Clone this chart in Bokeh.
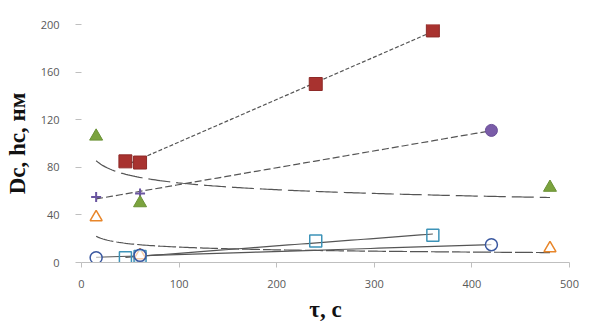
import numpy as np
from bokeh.plotting import figure
from bokeh.models import Range1d, FixedTicker
from bokeh.embed import file_html
from bokeh.resources import INLINE

# ---- data ----
tau_red = [45, 60, 240, 360]
d_red = [85, 84, 150, 195]

tau_purple_plus = [15, 60]
d_purple_plus = [55, 58]
tau_purple_circ = [420]
d_purple_circ = [111]

tau_green = [15, 60, 480]
d_green = [106, 50, 63]

tau_orange = [15, 60, 480]
h_orange = [38, 6, 12]

tau_bsq = [45, 60, 240, 360]
h_bsq = [4, 5, 18, 23]

tau_bcirc = [15, 60, 420]
h_bcirc = [4, 6, 15]

x_ticks = [0, 100, 200, 300, 400, 500]
y_ticks = [0, 40, 80, 120, 160, 200]

p = figure(width=583, height=324, output_backend="svg", toolbar_location=None,
           x_range=Range1d(0, 500), y_range=Range1d(0, 200),
           min_border_left=81, min_border_right=14, min_border_top=24, min_border_bottom=40)
p.outline_line_color = None
p.xgrid.visible = False
p.ygrid.visible = False
p.background_fill_color = "white"

LINE = "#555555"


def lin_trend(x, y, dash):
    k, b = np.polyfit(x, y, 1)
    xs = np.linspace(min(x), max(x), 50)
    p.line(xs, k * xs + b, line_color=LINE, line_width=1.2, line_dash=dash)


def pow_trend(x, y, dash):
    b, a = np.polyfit(np.log(x), np.log(y), 1)
    xs = np.linspace(min(x), max(x), 200)
    p.line(xs, np.exp(a) * xs ** b, line_color=LINE, line_width=1.2, line_dash=dash)


# trend lines
lin_trend(tau_red, d_red, "4 2")
lin_trend(tau_purple_plus + tau_purple_circ, d_purple_plus + d_purple_circ, "7 3")
pow_trend(tau_green, d_green, "22 6")
pow_trend(tau_orange, h_orange, "18 3")
lin_trend(tau_bsq, h_bsq, "solid")
lin_trend(tau_bcirc, h_bcirc, "solid")

# markers
p.scatter(tau_red, d_red, marker="square", size=13, fill_color="#a8322f", line_color="#8e2a28")
p.scatter(tau_purple_plus, d_purple_plus, marker="cross", size=10, line_color="#6a55a0", line_width=2)
p.scatter(tau_purple_circ, d_purple_circ, marker="circle", size=12, fill_color="#7a5ca8", line_color="#6a4e98")
p.scatter(tau_green, d_green, marker="triangle", size=13, fill_color="#7ba33e", line_color="#6a9235")
p.scatter(tau_orange, h_orange, marker="triangle", size=12, fill_color="white", line_color="#e8862a", line_width=1.5)
p.scatter(tau_bsq, h_bsq, marker="square", size=12, fill_color="white", fill_alpha=0.0, line_color="#3d93b8", line_width=1.5)
p.scatter(tau_bcirc, h_bcirc, marker="circle", size=12, fill_color="white", fill_alpha=0.6, line_color="#3a58a0", line_width=1.5)

# axes
p.xaxis.ticker = FixedTicker(ticks=x_ticks)
p.yaxis.ticker = FixedTicker(ticks=y_ticks)
p.xaxis.minor_tick_line_color = None
p.yaxis.minor_tick_line_color = None
p.xaxis.axis_line_color = "#bfbfbf"
p.xaxis.major_tick_line_color = "#bfbfbf"
p.xaxis.major_tick_out = 5
p.xaxis.major_tick_in = 0
p.yaxis.axis_line_color = None
p.yaxis.major_tick_line_color = "#bfbfbf"
p.yaxis.major_tick_out = 6
p.yaxis.major_tick_in = 0

for ax in (p.xaxis, p.yaxis):
    ax.major_label_text_font = "Open Sans"
    ax.major_label_text_font_size = "11px"
    ax.major_label_text_color = "#595959"
    ax.axis_label_text_font = "Liberation Serif"
    ax.axis_label_text_font_style = "bold"
    ax.axis_label_text_font_size = "23px"
    ax.axis_label_text_color = "#111111"

p.xaxis.major_label_standoff = 12
p.yaxis.major_label_standoff = 16
p.xaxis.axis_label = "τ, с"
p.yaxis.axis_label = "Dc, hc, нм"
p.xaxis.axis_label_standoff = 6
p.yaxis.axis_label_standoff = 8

open("out.html", "w").write(file_html(p, INLINE))
